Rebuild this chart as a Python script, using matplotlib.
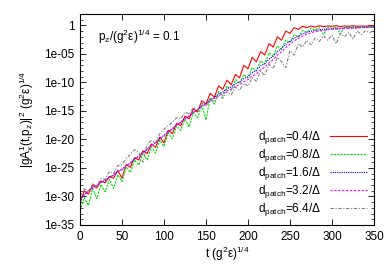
import numpy as np
import matplotlib
matplotlib.use("Agg")
import matplotlib.pyplot as plt
from matplotlib.ticker import FixedLocator, NullFormatter

plt.rcParams['font.family'] = ['Liberation Sans', 'DejaVu Sans']
plt.rcParams['mathtext.fontset'] = 'custom'
plt.rcParams['mathtext.rm'] = 'Liberation Sans'
plt.rcParams['mathtext.it'] = 'Liberation Sans'
plt.rcParams['mathtext.sf'] = 'Liberation Sans'

# time axis, data read every 5 units (log10 of the value)
t = np.arange(0, 351, 5)

red = [-31.2, -29.0, -29.6, -28.0, -28.5, -27.3, -27.6, -26.5, -26.8, -25.4,
       -26.8, -24.4, -24.9, -23.2, -23.6, -22.0, -22.5, -20.8, -21.4, -19.6,
       -20.6, -18.4, -19.0, -17.2, -17.6, -15.9, -16.4, -14.6, -15.2, -13.2,
       -13.8, -11.9, -12.6, -10.6, -11.2, -9.6, -10.4, -8.6, -9.2, -7.0,
       -7.6, -5.6, -6.4, -4.6, -5.2, -3.2, -3.8, -2.0, -2.6, -1.0,
       -1.4, -0.4, -0.7, -0.15, -0.4, -0.1, -0.3, -0.05, -0.2, -0.1,
       -0.15, -0.05, -0.2, -0.1, -0.15, -0.05, -0.15, -0.1, -0.15, -0.05, -0.1]

green = [-32.5, -30.2, -31.6, -28.6, -30.4, -27.9, -29.2, -27.0, -28.6, -26.2,
         -27.4, -24.8, -25.8, -23.6, -24.5, -22.4, -23.6, -21.3, -22.4, -20.1,
         -21.2, -18.8, -19.9, -17.6, -18.4, -16.4, -17.8, -15.3, -16.2, -14.0,
         -16.6, -12.8, -13.8, -11.6, -12.4, -10.6, -11.4, -9.5, -10.2, -8.6,
         -9.2, -7.4, -8.0, -6.2, -6.8, -4.8, -5.4, -3.6, -4.2, -2.6,
         -3.0, -1.6, -2.0, -0.9, -1.2, -0.5, -0.8, -0.4, -1.6, -0.3,
         -0.5, -0.3, -1.5, -0.25, -0.4, -0.2, -0.35, -0.2, -0.3, -0.2, -0.25]

blue = [-30.8, -29.6, -29.1, -28.4, -28.1, -27.5, -27.2, -26.6, -26.3, -25.6,
        -25.3, -24.6, -24.2, -23.4, -23.0, -22.2, -21.8, -21.0, -20.6, -19.8,
        -19.3, -18.6, -18.2, -17.4, -17.0, -16.3, -15.9, -15.2, -14.8, -14.1,
        -13.7, -13.0, -12.7, -12.0, -11.7, -11.1, -10.8, -10.2, -9.9, -9.3,
        -9.0, -8.3, -7.9, -7.1, -6.7, -5.9, -5.4, -4.6, -4.0, -3.3,
        -2.8, -2.2, -1.9, -1.5, -1.2, -1.0, -0.9, -0.75, -0.7, -0.6,
        -0.6, -0.5, -0.5, -0.45, -0.45, -0.4, -0.4, -0.35, -0.3, -0.3, -0.3]

magenta = [-30.5, -29.8, -29.0, -28.6, -28.0, -27.6, -27.1, -26.7, -26.2, -25.7,
           -25.2, -24.7, -24.1, -23.5, -22.9, -22.3, -21.7, -21.1, -20.5, -19.9,
           -19.4, -18.7, -18.1, -17.5, -17.0, -16.4, -15.9, -15.3, -14.8, -14.2,
           -13.8, -13.2, -12.8, -12.3, -12.0, -11.5, -11.2, -10.7, -10.4, -9.9,
           -9.5, -8.9, -8.5, -7.8, -7.3, -6.6, -6.0, -5.2, -4.6, -3.9,
           -3.3, -2.7, -2.3, -1.9, -1.5, -1.3, -1.1, -0.95, -0.85, -0.75,
           -0.7, -0.65, -0.6, -0.55, -0.5, -0.5, -0.45, -0.4, -0.4, -0.35, -0.35]

gray = [-30.0, -28.6, -29.2, -27.8, -28.2, -26.9, -27.0, -25.6, -26.0, -24.6,
        -24.4, -23.4, -22.6, -21.8, -22.2, -24.0, -20.8, -20.2, -20.6, -19.0,
        -18.2, -17.6, -17.0, -16.2, -16.4, -15.2, -15.6, -14.4, -14.8, -13.6,
        -14.2, -13.0, -13.4, -12.2, -12.8, -11.6, -12.2, -10.8, -11.4, -10.2,
        -10.6, -9.2, -9.8, -8.0, -8.8, -6.8, -7.6, -5.6, -6.4, -7.4,
        -4.4, -5.2, -3.2, -3.8, -2.6, -3.4, -2.2, -2.8, -1.8, -2.6,
        -1.7, -3.2, -1.4, -2.0, -1.2, -2.4, -1.0, -1.6, -0.9, -1.3, -0.8]

labels = [r"d$_{patch}$=0.4/Δ", r"d$_{patch}$=0.8/Δ", r"d$_{patch}$=1.6/Δ",
          r"d$_{patch}$=3.2/Δ", r"d$_{patch}$=6.4/Δ"]
ytick_vals = [1, 1e-5, 1e-10, 1e-15, 1e-20, 1e-25, 1e-30, 1e-35]
ytick_labels = ["1", "1e-05", "1e-10", "1e-15", "1e-20", "1e-25", "1e-30", "1e-35"]

fig = plt.figure(figsize=(3.92, 2.75), dpi=100)
ax = fig.add_axes([0.204, 0.182, 0.750, 0.767])

ax.plot(t, 10.0 ** np.array(red), color="#ff0000", lw=0.8, ls="-", label=labels[0])
ax.plot(t, 10.0 ** np.array(green), color="#00e000", lw=0.8, ls=(0, (2, 1)), label=labels[1])
ax.plot(t, 10.0 ** np.array(blue), color="#0000ff", lw=0.8, ls=(0, (1, 1)), label=labels[2])
ax.plot(t, 10.0 ** np.array(magenta), color="#ff00ff", lw=0.8, ls=(0, (2, 1.5)), label=labels[3])
ax.plot(t, 10.0 ** np.array(gray), color="#808080", lw=0.8, ls=(0, (3, 1.5, 1, 1.5)), label=labels[4])

ax.set_yscale("log")
ax.set_xlim(0, 350)
ax.set_ylim(1e-35, 1e2)
ax.set_xticks(np.arange(0, 351, 50))
ax.yaxis.set_major_locator(FixedLocator(ytick_vals))
ax.set_yticklabels(ytick_labels)
ax.yaxis.set_minor_locator(FixedLocator([10.0 ** k for k in range(-35, 3)]))
ax.yaxis.set_minor_formatter(NullFormatter())
ax.tick_params(which="both", direction="in", top=True, right=True, labelsize=8.5)
ax.tick_params(which="major", length=4, width=0.6, pad=4)
ax.tick_params(which="minor", length=2, width=0.5)
for s in ax.spines.values():
    s.set_linewidth(0.8)

ax.set_xlabel(r"t (g$^2$ε)$^{1/4}$", fontsize=8.5, labelpad=2)
ax.set_ylabel(r"|gA$_x^1$(t,p$_z$)|$^2$ (g$^2$ε)$^{1/4}$", fontsize=8.5, labelpad=6)
ax.text(0.06, 0.87, r"p$_z$/(g$^2$ε)$^{1/4}$ = 0.1", transform=ax.transAxes, fontsize=8.5)

ax.legend(loc="lower right", frameon=False, markerfirst=False, fontsize=8.5,
          handlelength=3.2, labelspacing=0.1, borderaxespad=0.15, handletextpad=0.7)

fig.savefig("out.png", dpi=100)
